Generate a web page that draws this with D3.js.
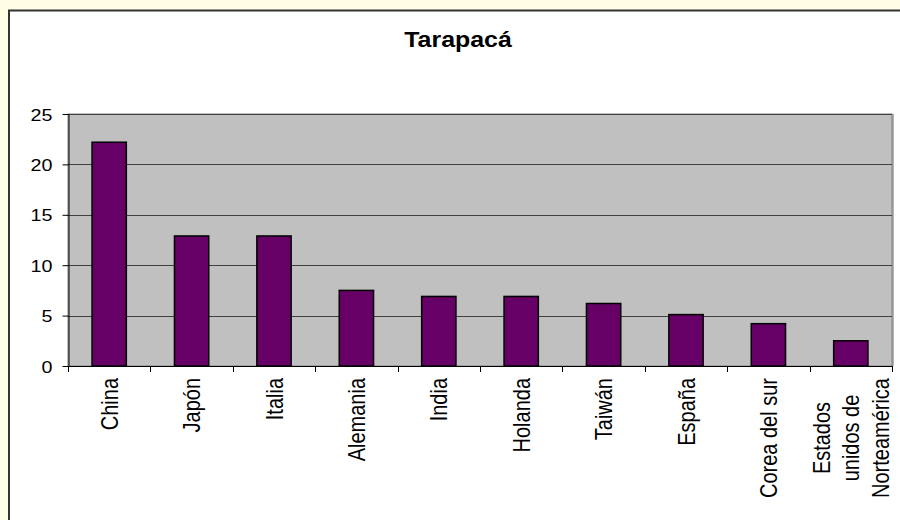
<!DOCTYPE html>
<html>
<head>
<meta charset="utf-8">
<script src="https://cdn.jsdelivr.net/npm/d3@7"></script>
<style>
  body { margin: 0; background: #fffde6; }
  svg { display: block; font-family: "Liberation Sans", Arial, sans-serif; }
</style>
</head>
<body>
<svg width="900" height="520"></svg>
<script>
const title = "Tarapacá";
const categories = ["China", "Japón", "Italia", "Alemania", "India", "Holanda",
    "Taiwán", "España", "Corea del sur", "Estados\nunidos de\nNorteamérica"];
const values = [22.2, 12.9, 12.9, 7.5, 6.9, 6.9, 6.2, 5.1, 4.2, 2.5];
const yTicks = [0, 5, 10, 15, 20, 25];

const svg = d3.select("svg"),
    width = +svg.attr("width"),
    height = +svg.attr("height");

// the original picture is stretched sideways a bit, text included
const stretch = 1.16;
const plot = {left: 68, right: 892, top: 114, bottom: 366};

svg.append("rect")
    .attr("x", 9).attr("y", 10.5)
    .attr("width", width).attr("height", height)
    .attr("fill", "#fff")
    .attr("stroke", "#333")
    .attr("stroke-width", 2);

const x = d3.scaleBand()
    .domain(categories)
    .range([plot.left, plot.right])
    .paddingInner(0.584)
    .paddingOuter(0.292);

const y = d3.scaleLinear()
    .domain([0, 25])
    .range([plot.bottom, plot.top]);

svg.append("rect")
    .attr("x", plot.left).attr("y", plot.top)
    .attr("width", plot.right - plot.left)
    .attr("height", plot.bottom - plot.top)
    .attr("fill", "#c0c0c0")
    .attr("stroke", "#808080");

svg.append("line")
    .attr("x1", plot.right + 1).attr("x2", plot.right + 1)
    .attr("y1", plot.top).attr("y2", plot.bottom)
    .attr("stroke", "#6a6a6a");

svg.append("g")
    .selectAll("line")
    .data(yTicks.filter(t => t > 0))
    .join("line")
    .attr("x1", plot.left).attr("x2", plot.right)
    .attr("y1", d => Math.round(y(d)) + 0.5)
    .attr("y2", d => Math.round(y(d)) + 0.5)
    .attr("stroke", "#404040");

svg.append("g")
    .selectAll("rect")
    .data(values)
    .join("rect")
    .attr("x", (d, i) => x(categories[i]))
    .attr("y", d => y(d))
    .attr("width", x.bandwidth())
    .attr("height", d => y(0) - y(d))
    .attr("fill", "#660066")
    .attr("stroke", "#000")
    .attr("stroke-width", 1.5);

// y axis
const yAxis = svg.append("g")
    .attr("transform", `translate(${plot.left + 0.5},0)`)
    .call(d3.axisLeft(y).tickValues(yTicks).tickSize(6).tickSizeOuter(0));
yAxis.select(".domain").attr("stroke", "#000");
yAxis.selectAll(".tick line").attr("stroke", "#000");
yAxis.selectAll(".tick text")
    .attr("x", 0)
    .attr("dy", "0.36em")
    .attr("transform", `translate(-16,0) scale(${stretch},1)`)
    .attr("font-size", 17)
    .attr("font-family", "Liberation Sans, Arial, sans-serif")
    .attr("fill", "#000");

// x axis
const step = x.step();
const bounds = d3.range(categories.length + 1).map(i => plot.left + i * step);
svg.append("line")
    .attr("x1", plot.left).attr("x2", plot.right + 1)
    .attr("y1", plot.bottom + 0.5).attr("y2", plot.bottom + 0.5)
    .attr("stroke", "#000");
svg.append("g")
    .selectAll("line")
    .data(bounds)
    .join("line")
    .attr("x1", d => Math.round(d) + 0.5).attr("x2", d => Math.round(d) + 0.5)
    .attr("y1", plot.bottom).attr("y2", plot.bottom + 6)
    .attr("stroke", "#000");

const labelTop = 378;
const lineGap = 25.5;
categories.forEach(c => {
    const lines = c.split("\n");
    const cx = x(c) + x.bandwidth() / 2;
    const g = svg.append("g");
    const t = g.append("text")
        .attr("font-size", 20)
        .attr("text-anchor", lines.length > 1 ? "middle" : "end")
        .attr("dominant-baseline", "central");
    t.selectAll("tspan")
        .data(lines)
        .join("tspan")
        .attr("x", 0)
        .attr("y", (d, i) => (i - (lines.length - 1) / 2) * lineGap)
        .text(d => d);
    let along = 0;
    if (lines.length > 1) {
        const longest = d3.max(t.selectAll("tspan").nodes(), n => n.getComputedTextLength());
        along = longest / 2;
    }
    g.attr("transform", `translate(${cx},${labelTop + along}) scale(${stretch},1) rotate(-90)`);
});

svg.append("text")
    .attr("transform", `translate(458,47) scale(${stretch},1)`)
    .attr("text-anchor", "middle")
    .attr("font-size", 21.5)
    .attr("font-weight", "bold")
    .text(title);
</script>
</body>
</html>
